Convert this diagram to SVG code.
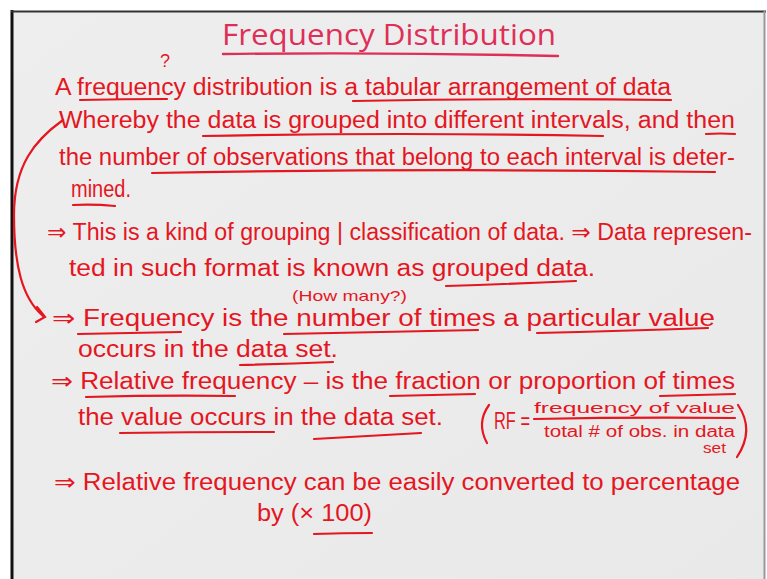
<svg xmlns="http://www.w3.org/2000/svg" width="767" height="579" viewBox="0 0 767 579">
  <style>
    .title { font-family: "Open Sans", "Liberation Sans", sans-serif; font-size: 30px; fill: #df2f58; }
    .hw { font-family: "Liberation Sans", "DejaVu Sans", sans-serif; font-size: 23px; fill: #e5161f; }
    .sm { font-family: "Liberation Sans", "DejaVu Sans", sans-serif; font-size: 15px; fill: #e5161f; }
    .ul { fill: none; stroke: #e5161f; stroke-width: 2.2; stroke-linecap: round; }
    .tl { fill: none; stroke: #df2f58; stroke-width: 2.4; stroke-linecap: round; }
  </style>
  <defs>
    <linearGradient id="paper" x1="0" y1="0" x2="1" y2="1">
      <stop offset="0" stop-color="#eeeeee"/>
      <stop offset="1" stop-color="#e9e9e9"/>
    </linearGradient>
  </defs>

  <!-- page and frame -->
  <rect x="0" y="0" width="767" height="579" fill="#ffffff"/>
  <rect x="12" y="11" width="752" height="568" fill="url(#paper)"/>
  <line x1="12" y1="10" x2="12" y2="579" stroke="#111" stroke-width="3"/>
  <line x1="11" y1="11.5" x2="766" y2="11.5" stroke="#333" stroke-width="2"/>
  <line x1="764.5" y1="11" x2="764.5" y2="579" stroke="#999" stroke-width="2"/>

  <!-- heading -->
  <g id="title">
    <text class="title" x="222" y="45" textLength="334" lengthAdjust="spacingAndGlyphs">Frequency Distribution</text>
    <path class="tl" d="M223 54 Q390 52 558 56"/>
  </g>

  <!-- definition paragraph -->
  <g id="definition">
    <text class="hw" x="160" y="67" style="font-size:18px">?</text>
    <text class="hw" x="55" y="95" textLength="616" lengthAdjust="spacingAndGlyphs">A frequency distribution is a tabular arrangement of data</text>
    <text class="hw" x="59" y="128" textLength="676" lengthAdjust="spacingAndGlyphs">Whereby the data is grouped into different intervals, and then</text>
    <text class="hw" x="59" y="165" textLength="676" lengthAdjust="spacingAndGlyphs">the number of observations that belong to each interval is deter-</text>
    <text class="hw" x="71" y="197" textLength="60" lengthAdjust="spacingAndGlyphs">mined.</text>
    <path class="ul" d="M80 100 Q123 99 167 99"/>
    <path class="ul" d="M353 101 Q510 98 671 100"/>
    <path class="ul" d="M203 136 Q400 132 603 136"/>
    <path class="ul" d="M706 134 Q720 133 735 134"/>
    <path class="ul" d="M152 173 Q430 168 715 172"/>
    <path class="ul" d="M73 205 Q94 204 115 206"/>
  </g>

  <!-- grouped data note -->
  <g id="grouped">
    <text class="hw" x="47" y="240" textLength="705" lengthAdjust="spacingAndGlyphs">⇒ This is a kind of grouping | classification of data. ⇒ Data represen-</text>
    <text class="hw" x="69" y="276" textLength="526" lengthAdjust="spacingAndGlyphs">ted in such format is known as grouped data.</text>
    <path class="ul" d="M446 286 Q510 284 576 281"/>
  </g>

  <!-- frequency -->
  <g id="frequency">
    <text class="sm" x="292" y="301" textLength="115" lengthAdjust="spacingAndGlyphs">(How many?)</text>
    <text class="hw" x="52" y="326" textLength="663" lengthAdjust="spacingAndGlyphs">⇒ Frequency is the number of times a particular value</text>
    <text class="hw" x="78" y="357" textLength="260" lengthAdjust="spacingAndGlyphs">occurs in the data set.</text>
    <path class="ul" d="M78 334 Q130 333 181 332"/>
    <path class="ul" d="M284 334 Q380 332 478 330"/>
    <path class="ul" d="M537 333 Q620 331 708 328"/>
    <path class="ul" d="M240 365 Q287 364 333 362"/>
  </g>

  <!-- relative frequency -->
  <g id="relative">
    <text class="hw" x="51" y="389" textLength="684" lengthAdjust="spacingAndGlyphs">⇒ Relative frequency – is the fraction or proportion of times</text>
    <text class="hw" x="78" y="425" textLength="365" lengthAdjust="spacingAndGlyphs">the value occurs in the data set.</text>
    <path class="ul" d="M86 397 Q160 395 235 396"/>
    <path class="ul" d="M390 396 Q432 395 475 394"/>
    <path class="ul" d="M660 396 Q697 395 735 394"/>
    <path class="ul" d="M120 433 Q197 432 274 432"/>
    <path class="ul" d="M314 439 Q367 436 421 433"/>
  </g>

  <!-- RF formula -->
  <g id="formula">
    <path class="ul" d="M489 405 Q476 423 487 443"/>
    <text class="hw" x="494" y="429" textLength="36" lengthAdjust="spacingAndGlyphs">RF =</text>
    <text class="sm" x="534" y="413" textLength="201" lengthAdjust="spacingAndGlyphs" style="font-size:15px">frequency of value</text>
    <path class="ul" d="M534 419 Q634 417 735 418"/>
    <text class="sm" x="544" y="437" textLength="191" lengthAdjust="spacingAndGlyphs" style="font-size:16px">total # of obs. in data</text>
    <text class="sm" x="703" y="453" textLength="23" lengthAdjust="spacingAndGlyphs" style="font-size:15px">set</text>
    <path class="ul" d="M738 405 Q755 430 737 457"/>
  </g>

  <!-- percentage -->
  <g id="percentage">
    <text class="hw" x="54" y="490" textLength="686" lengthAdjust="spacingAndGlyphs">⇒ Relative frequency can be easily converted to percentage</text>
    <text class="hw" x="257" y="521" textLength="115" lengthAdjust="spacingAndGlyphs">by (× 100)</text>
    <path class="ul" d="M314 534 Q343 533 372 533"/>
  </g>

  <!-- bracket arrow linking the definition to the frequency line -->
  <g id="connectors">
    <path class="ul" d="M63 120 C35 140 14 165 14 215 C14 265 22 298 43 316"/>
    <path class="ul" d="M37 307 L45 317 L36 322"/>
  </g>
</svg>
